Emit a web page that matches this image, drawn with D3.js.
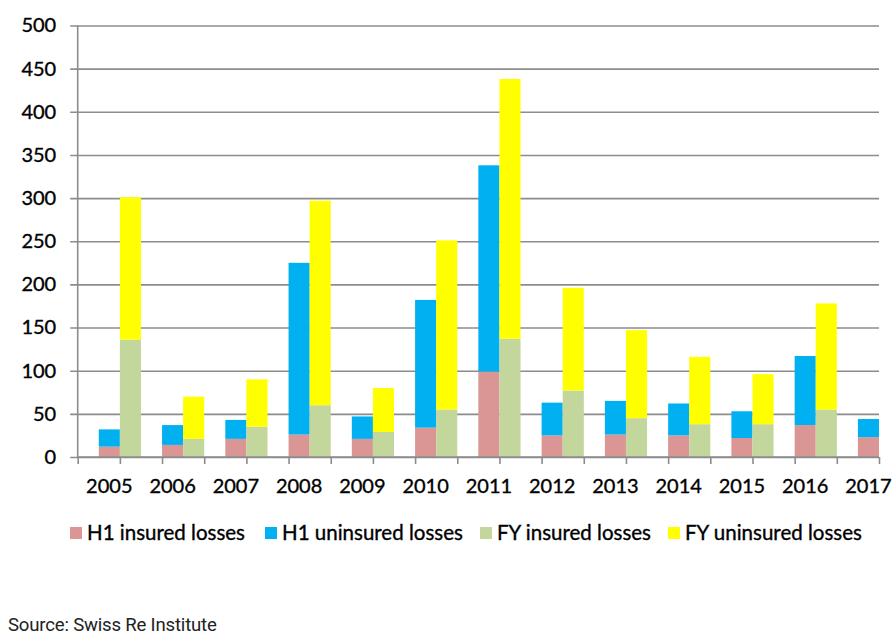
<!DOCTYPE html>
<html>
<head>
<meta charset="utf-8">
<script src="https://cdn.jsdelivr.net/npm/d3@7"></script>
<style>
  body { margin: 0; background: #fff; }
  text { font-family: Lato, "Open Sans", sans-serif; fill: #000; }
  .lbl { stroke: #000; stroke-width: 0.35px; }
</style>
</head>
<body>
<div class="chart"></div>
<script>
const years = ["2005", "2006", "2007", "2008", "2009", "2010", "2011", "2012", "2013", "2014", "2015", "2016", "2017"];
const h1Insured   = [12, 14, 21, 26, 21, 34, 99, 25, 26, 25, 22, 37, 23];
const h1Uninsured = [20, 23, 22, 199, 26, 148, 239, 38, 39, 37, 31, 80, 21];
const fyInsured   = [136, 21, 35, 60, 29, 55, 137, 77, 45, 38, 38, 55, 0];
const fyUninsured = [165, 49, 55, 237, 51, 196, 301, 119, 102, 78, 58, 123, 0];
const yTicks = [0, 50, 100, 150, 200, 250, 300, 350, 400, 450, 500];
const seriesNames = ["H1 insured losses", "H1 uninsured losses", "FY insured losses", "FY uninsured losses"];
const colors = ["#d99694", "#00b0f0", "#c3d69b", "#ffff00"];

const W = 894, H = 644;
const margin = { top: 25.5, right: 15, bottom: 187, left: 77.7 };
const width = W - margin.left - margin.right,
      height = H - margin.top - margin.bottom;

const svg = d3.select(".chart").append("svg")
    .attr("width", W)
    .attr("height", H);
const g = svg.append("g")
    .attr("transform", "translate(" + margin.left + "," + margin.top + ")");

// 38 slots: each year gets [H1 bar, FY bar, gap]
const slots = d3.range(38);
const x = d3.scaleBand().domain(slots).range([0, width]).padding(0);
const xTick = d3.scaleLinear().domain([0, 38]).range([0, width]);
const y = d3.scaleLinear().domain([0, 500]).range([height, 0]);

// gridlines + y axis
const yAxis = g.append("g")
    .call(d3.axisLeft(y).tickValues(yTicks).tickSize(-width - 8).tickPadding(14))
    .attr("transform", "translate(-7.5,0)");
yAxis.select(".domain").remove();
yAxis.selectAll(".tick line").attr("stroke", "#8c8c8c").attr("stroke-width", 1.6).attr("x2", width + 7.5);
yAxis.selectAll(".tick text").attr("class", "lbl").style("font-size", "20px");

g.append("line")
    .attr("x1", 0).attr("x2", 0).attr("y1", 0).attr("y2", height)
    .attr("stroke", "#8c8c8c").attr("stroke-width", 1.6);

// bars
const rows = years.map((yr, i) => ({
    i: i,
    h1Insured: h1Insured[i], h1Uninsured: h1Uninsured[i],
    fyInsured: fyInsured[i], fyUninsured: fyUninsured[i]
}));

const h1Stack = d3.stack().keys(["h1Insured", "h1Uninsured"])(rows);
const fyStack = d3.stack().keys(["fyInsured", "fyUninsured"])(rows);

function drawStack(stack, offset, colorOffset) {
    g.selectAll(".layer" + offset)
        .data(stack)
        .enter().append("g")
        .attr("fill", (d, k) => colors[k + colorOffset])
        .selectAll("rect")
        .data(d => d)
        .enter().append("rect")
        .attr("x", d => x(d.data.i * 3 + offset))
        .attr("width", x.bandwidth())
        .attr("y", d => y(d[1]))
        .attr("height", d => y(d[0]) - y(d[1]));
}
drawStack(h1Stack, 1, 0);
drawStack(fyStack, 2, 2);

// x axis
const xAxis = g.append("g")
    .attr("transform", "translate(0," + height + ")")
    .call(d3.axisBottom(xTick).tickValues(d3.range(0, 39, 2)).tickSize(7).tickFormat(""));
xAxis.select(".domain").attr("stroke", "#8c8c8c").attr("stroke-width", 1.6).attr("d", "M0,0H" + width);
xAxis.selectAll(".tick line").attr("stroke", "#8c8c8c").attr("stroke-width", 1.6);

g.selectAll(".year")
    .data(years)
    .enter().append("text")
    .attr("class", "year lbl")
    .attr("x", (d, i) => xTick(i * 3 + 1.5))
    .attr("y", height + 36)
    .attr("text-anchor", "middle")
    .style("font-size", "20px")
    .text(d => d);

// legend
const legendX = [70, 265, 480, 668];
const legend = svg.selectAll(".legend")
    .data(seriesNames)
    .enter().append("g")
    .attr("class", "legend")
    .attr("transform", (d, i) => "translate(" + legendX[i] + ",533)");
legend.append("rect")
    .attr("x", 0).attr("y", -6).attr("width", 12).attr("height", 12)
    .attr("fill", (d, i) => colors[i]);
legend.append("text")
    .attr("class", "lbl")
    .attr("x", 17).attr("dy", "0.35em")
    .style("font-size", "20.5px")
    .text(d => d);

svg.append("text")
    .attr("x", 8).attr("y", 631)
    .style("font-family", "Roboto, sans-serif")
    .style("font-size", "18.6px")
    .style("letter-spacing", "-0.2px")
    .style("fill", "#222")
    .text("Source: Swiss Re Institute");
</script>
</body>
</html>
